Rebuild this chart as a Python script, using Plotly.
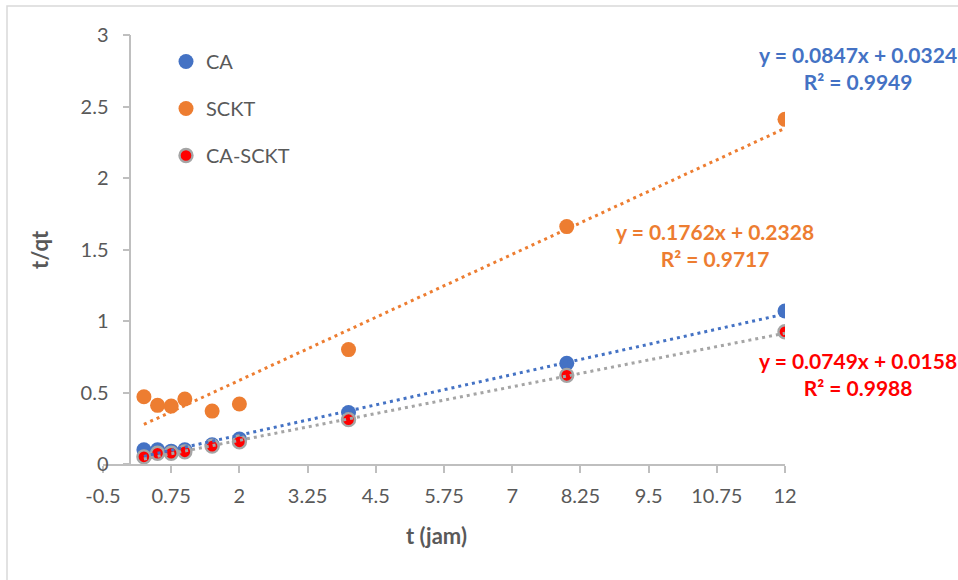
import plotly.graph_objects as go

# ---- data ----
t_jam = [0.25, 0.5, 0.75, 1, 1.5, 2, 4, 8, 12]
ca = [0.10, 0.10, 0.09, 0.10, 0.135, 0.175, 0.36, 0.705, 1.07]
sckt = [0.47, 0.41, 0.405, 0.455, 0.37, 0.42, 0.80, 1.66, 2.41]
ca_sckt = [0.05, 0.075, 0.075, 0.085, 0.125, 0.155, 0.31, 0.62, 0.925]

# trendline coefficients (slope, intercept, R2) as printed on the chart
fit_ca = (0.0847, 0.0324, 0.9949)
fit_sckt = (0.1762, 0.2328, 0.9717)
fit_casckt = (0.0749, 0.0158, 0.9988)

x_tickvals = [-0.5, 0.75, 2, 3.25, 4.5, 5.75, 7, 8.25, 9.5, 10.75, 12]
x_ticktext = ["-0.5", "0.75", "2", "3.25", "4.5", "5.75", "7", "8.25", "9.5", "10.75", "12"]
y_tickvals = [0, 0.5, 1, 1.5, 2, 2.5, 3]
y_ticktext = ["0", "0.5", "1", "1.5", "2", "2.5", "3"]

BLUE = "#4472C4"
ORANGE = "#ED7D31"
GRAY = "#A5A5A5"
RED = "#FF0000"
TXT = "#595959"
AX = "#BFBFBF"
FONT = "Lato"

W, H = 958, 580
x0p, x1p = 103, 785   # pixel of x=-0.5 and x=12
y0p, y1p = 464, 35    # pixel of y=0 and y=3
xmin, xmax = -0.5, 12

def px_x(p):
    return p / W

def px_y(p):
    return 1 - p / H

fig = go.Figure()

fig.add_trace(go.Scatter(x=t_jam, y=ca, mode="markers", name="CA", legendgroup="a",
                         marker=dict(color=BLUE, size=15, line=dict(width=0))))
fig.add_trace(go.Scatter(x=t_jam, y=sckt, mode="markers", name="SCKT", legendgroup="b",
                         marker=dict(color=ORANGE, size=15, line=dict(width=0))))
fig.add_trace(go.Scatter(x=t_jam, y=ca_sckt, mode="markers", name="CA-SCKT", legendgroup="c",
                         marker=dict(color=RED, size=13, line=dict(color=GRAY, width=2.4))))

xa, xb = min(t_jam), max(t_jam)
for (m, b, r2), col in [(fit_ca, BLUE), (fit_sckt, ORANGE), (fit_casckt, GRAY)]:
    fig.add_trace(go.Scatter(x=[xa, xb], y=[m * xa + b, m * xb + b], mode="lines",
                             showlegend=False, hoverinfo="skip",
                             line=dict(color=col, width=3, dash="3px,4px")))

def eq_text(fit):
    m, b, r2 = fit
    return f"<b>y = {m:.4f}x + {b:.4f}</b><br><b>R² = {r2:.4f}</b>"

ann_font = dict(family=FONT, size=21)
annotations = [
    dict(text=eq_text(fit_ca), x=px_x(858), y=px_y(68), xref="paper", yref="paper",
         showarrow=False, align="center", xanchor="center", yanchor="middle",
         font=dict(color=BLUE, **ann_font)),
    dict(text=eq_text(fit_sckt), x=px_x(715), y=px_y(245), xref="paper", yref="paper",
         showarrow=False, align="center", xanchor="center", yanchor="middle",
         font=dict(color=ORANGE, **ann_font)),
    dict(text=eq_text(fit_casckt), x=px_x(858), y=px_y(374), xref="paper", yref="paper",
         showarrow=False, align="center", xanchor="center", yanchor="middle",
         font=dict(color=RED, **ann_font)),
    dict(text="<b>t/qt</b>", x=px_x(40), y=px_y(250), xref="paper", yref="paper",
         showarrow=False, textangle=-90, xanchor="center", yanchor="middle",
         font=dict(family=FONT, size=22, color=TXT)),
    dict(text="<b>t (jam)</b>", x=px_x(436), y=px_y(535), xref="paper", yref="paper",
         showarrow=False, xanchor="center", yanchor="middle",
         font=dict(family=FONT, size=22, color=TXT)),
]

fig.update_layout(
    width=W, height=H,
    margin=dict(l=0, r=0, t=0, b=0, autoexpand=False),
    paper_bgcolor="white", plot_bgcolor="white",
    font=dict(family=FONT, size=20, color=TXT),
    showlegend=True,
    legend=dict(x=px_x(166), y=px_y(42), xanchor="left", yanchor="top",
                bgcolor="rgba(0,0,0,0)", font=dict(family=FONT, size=20, color=TXT),
                traceorder="grouped", tracegroupgap=18, itemclick=False),
    annotations=annotations,
    shapes=[dict(type="rect", xref="paper", yref="paper", x0=px_x(7), x1=1.05,
                 y0=-0.05, y1=px_y(6), line=dict(color="#D9D9D9", width=1.5))],
    xaxis=dict(domain=[px_x(x0p), px_x(x1p)], range=[xmin, xmax], showgrid=False,
               zeroline=False, showline=True, linecolor=AX, linewidth=1.5,
               ticks="outside", ticklen=7, tickcolor=AX, tickwidth=1.5,
               tickvals=x_tickvals, ticktext=x_ticktext, ticklabelstandoff=6,
               tickfont=dict(family=FONT, size=20, color=TXT), anchor="y"),
    yaxis=dict(domain=[px_y(y0p), px_y(y1p)], range=[0, 3], showgrid=False,
               zeroline=False, showline=True, linecolor=AX, linewidth=1.5,
               ticks="outside", ticklen=7, tickcolor=AX, tickwidth=1.5,
               tickvals=y_tickvals, ticktext=y_ticktext, ticklabelstandoff=10,
               tickfont=dict(family=FONT, size=20, color=TXT),
               anchor="free", position=px_x(x0p + (0 - xmin) / (xmax - xmin) * (x1p - x0p))),
)

fig.write_html("out.html", config={"displayModeBar": False},
               post_script="document.body.style.margin='0px';document.body.style.overflow='hidden';")
